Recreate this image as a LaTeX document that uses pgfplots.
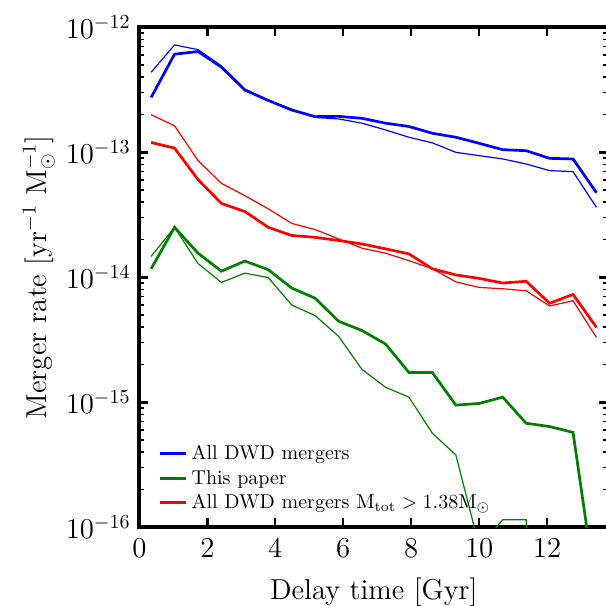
\documentclass[border=0pt]{standalone}
\usepackage{pgfplots}
\pgfplotsset{compat=1.18}
\definecolor{mplblue}{RGB}{0,0,255}
\definecolor{mplgreen}{RGB}{0,128,0}
\definecolor{mplred}{RGB}{255,0,0}
\pgfplotstableread{
x      bthick   bthin    rthick   rthin    gthick   gthin
0.345  2.75e-13 4.37e-13 1.2e-13  2.0e-13  1.17e-14 1.47e-14
1.035  6.1e-13  7.23e-13 1.08e-13 1.63e-13 2.51e-14 2.51e-14
1.725  6.4e-13  6.63e-13 6.05e-14 8.6e-14  1.56e-14 1.29e-14
2.415  4.8e-13  4.91e-13 3.9e-14  5.65e-14 1.12e-14 9.1e-15
3.105  3.15e-13 3.21e-13 3.36e-14 4.5e-14  1.35e-14 1.08e-14
3.795  2.6e-13  2.6e-13  2.51e-14 3.53e-14 1.15e-14 9.95e-15
4.485  2.18e-13 2.21e-13 2.16e-14 2.7e-14  8.2e-15  6.0e-15
5.175  1.93e-13 1.9e-13  2.09e-14 2.41e-14 6.8e-15  4.94e-15
5.865  1.94e-13 1.85e-13 1.97e-14 2.03e-14 4.45e-15 3.37e-15
6.555  1.87e-13 1.71e-13 1.85e-14 1.71e-14 3.75e-15 1.83e-15
7.245  1.71e-13 1.51e-13 1.69e-14 1.56e-14 2.93e-15 1.32e-15
7.935  1.61e-13 1.32e-13 1.54e-14 1.36e-14 1.73e-15 1.1e-15
8.625  1.42e-13 1.19e-13 1.17e-14 1.17e-14 1.73e-15 5.65e-16
9.315  1.32e-13 1.0e-13  1.045e-14 9.2e-15 9.5e-16  3.8e-16
10.005 1.18e-13 9.4e-14  9.8e-15  8.3e-15  9.8e-16  7e-17
10.695 1.05e-13 8.85e-14 9.0e-15  8.1e-15  1.1e-15  1.15e-16
11.385 1.03e-13 8.07e-14 9.3e-15  7.8e-15  6.8e-16  1.15e-16
12.075 8.95e-14 7.14e-14 6.2e-15  5.9e-15  6.4e-16  1e-30
12.765 8.85e-14 7.0e-14  7.3e-15  6.5e-15  5.75e-16 1e-30
13.455 4.75e-14 3.63e-14 3.98e-15 3.3e-15  2.9e-17  1e-30
}\data
\begin{document}
\begin{tikzpicture}
\useasboundingbox (-69.7pt,-39.35pt) rectangle (233.3pt,263.65pt);
\begin{axis}[
  at={(0,0)}, anchor=south west,
  scale only axis, width=234.4pt, height=250pt,
  xmin=0, xmax=13.8, ymode=log, ymin=1e-16, ymax=1e-12,
  xtick={0,2,...,12},
  ytick={1e-16,1e-15,1e-14,1e-13,1e-12},
  axis line style={line width=2pt},
  major tick length=4.5pt, minor tick length=2.5pt,
  major tick style={black, line width=1.2pt},
  minor tick style={black, line width=0.8pt},
  tick label style={font=\fontsize{14.4}{17}\selectfont},
  xticklabel style={anchor=base, yshift=-15.2pt},
  yticklabel style={xshift=-0.9pt},
  label style={font=\fontsize{14.4}{17}\selectfont},
  xlabel={Delay time [Gyr]},
  ylabel={Merger rate [yr$^{-1}$ M$_{\odot}^{-1}$]},
  x label style={at={(axis description cs:0.5,-0.1436)}, anchor=base},
  y label style={at={(axis description cs:-0.1992,0.5)}, anchor=base},
  legend style={draw=none, fill=none, at={(axis description cs:0.0265,0.014)}, anchor=south west,
    font=\fontsize{10}{11.5}\selectfont, row sep=-0.3pt},
  legend cell align=left,
  legend image code/.code={\draw[#1, line width=1.35pt] (0pt,0.3pt) -- (13.35pt,0.3pt);},
]
\addplot[mplblue, line width=0.6pt, forget plot] table[x=x, y=bthin] {\data};
\addplot[mplred, line width=0.6pt, forget plot] table[x=x, y=rthin] {\data};
\addplot[mplgreen, line width=0.6pt, forget plot] table[x=x, y=gthin] {\data};
\addplot[mplblue, line width=1.35pt] table[x=x, y=bthick] {\data};
\addlegendentry{All DWD mergers}
\addplot[mplgreen, line width=1.35pt] table[x=x, y=gthick] {\data};
\addlegendentry{This paper}
\addplot[mplred, line width=1.35pt] table[x=x, y=rthick] {\data};
\addlegendentry{All DWD mergers $\mathrm{M_{tot}} > 1.38\mathrm{M_{\odot}}$}
\end{axis}
\end{tikzpicture}
\end{document}
